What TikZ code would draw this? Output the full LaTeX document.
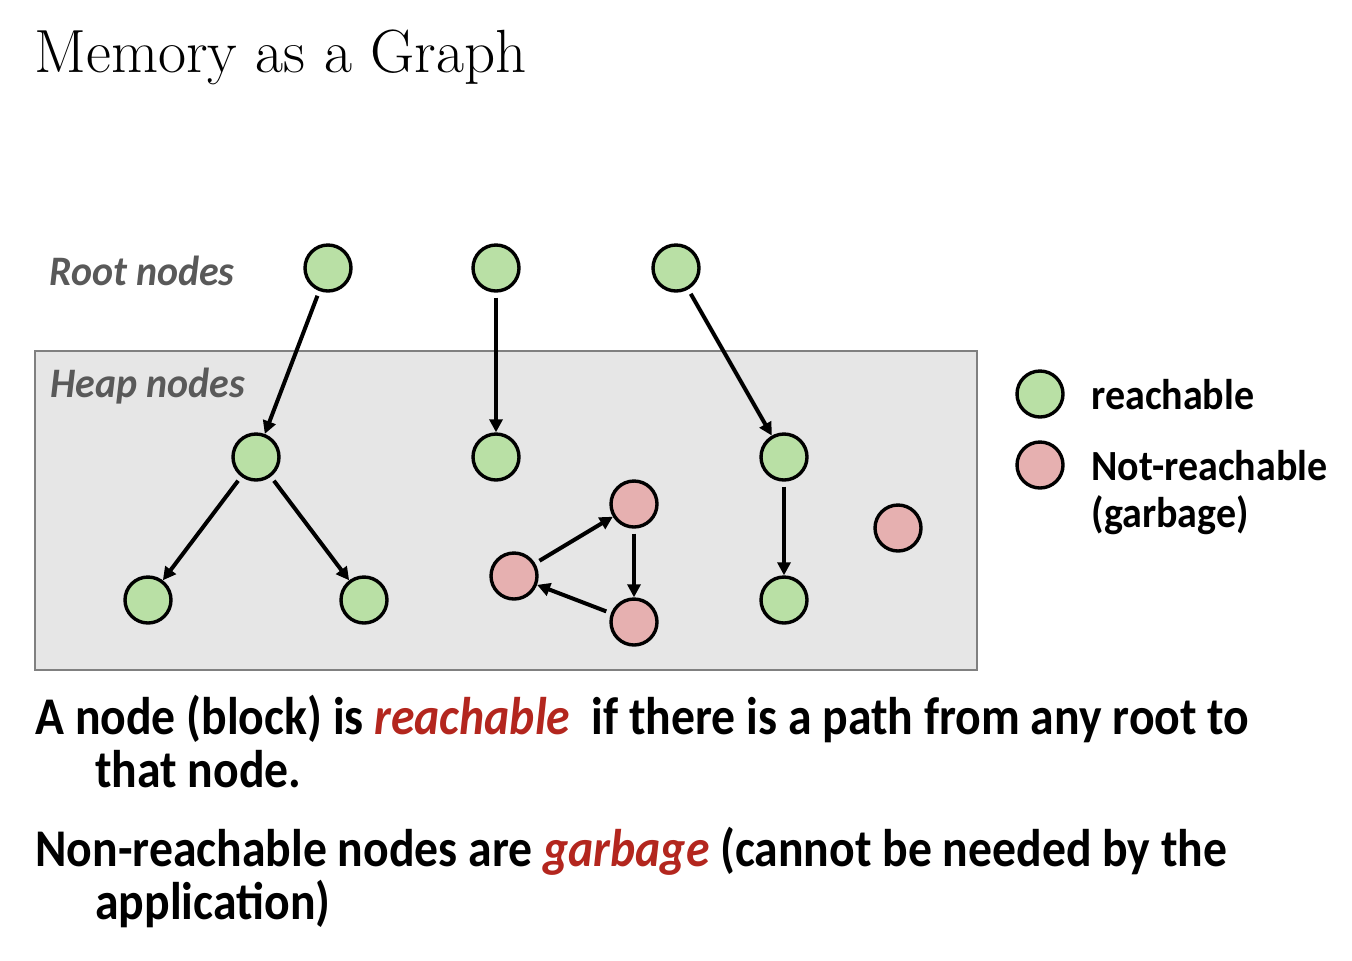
\documentclass[tikz,border=0pt]{standalone}
\usepackage{fontspec}
\newfontfamily\carllbl{Carlito}[FakeStretch=0.95]
\newfontfamily\carlleg{Carlito}[FakeStretch=0.93]
\newfontfamily\carlbody{Carlito}[FakeStretch=0.9]
\usetikzlibrary{arrows.meta}
\definecolor{gfill}{HTML}{B9E0A5}
\definecolor{rfill}{HTML}{E6B0B0}
\definecolor{boxfill}{HTML}{E6E6E6}
\definecolor{boxline}{HTML}{808080}
\definecolor{lblgray}{HTML}{595959}
\definecolor{emred}{HTML}{B3261E}
\tikzset{
  gnode/.style={circle,draw=black,line width=1.7pt,fill=gfill,minimum size=23pt,inner sep=0pt},
  rnode/.style={circle,draw=black,line width=1.7pt,fill=rfill,minimum size=23pt,inner sep=0pt},
  edge/.style={line width=2pt,-{Triangle[length=6.5pt,width=6.5pt]},shorten <=2.5pt,shorten >=0pt},
  lbl/.style={anchor=base west,inner sep=0pt,font=\carllbl\bfseries\itshape\fontsize{21}{25}\selectfont,text=lblgray},
  leg/.style={anchor=base west,inner sep=0pt,font=\carlleg\bfseries\fontsize{21.5}{26}\selectfont},
  body/.style={anchor=base west,inner sep=0pt,font=\carlbody\bfseries\fontsize{26.5}{32}\selectfont}
}
\begin{document}
\begin{tikzpicture}[x=0.5pt,y=-0.5pt]
\useasboundingbox (0,0) rectangle (1352,960);
\node[anchor=base west,inner sep=0pt,font=\fontsize{30.5}{36}\selectfont] (title) at (34,72) {Memory as a Graph};
\draw[fill=boxfill,draw=boxline,line width=0.6pt] (35,351) rectangle (977,670);
\node[lbl] (rootlbl) at (49,285) {Root nodes};
\node[lbl] (heaplbl) at (50,397) {Heap nodes};
% root nodes
\node[gnode] (r1) at (328,268) {};
\node[gnode] (r2) at (496,268) {};
\node[gnode] (r3) at (676,268) {};
% heap nodes
\node[gnode] (h1) at (256,457) {};
\node[gnode] (h2) at (496,457) {};
\node[gnode] (h3) at (784,457) {};
\node[gnode] (h4) at (148,600) {};
\node[gnode] (h5) at (364,600) {};
\node[gnode] (h6) at (784,600) {};
\node[rnode] (g1) at (634,504) {};
\node[rnode] (g2) at (514,576) {};
\node[rnode] (g3) at (634,622) {};
\node[rnode] (g4) at (898,528) {};
% edges
\draw[edge] (r1) -- (h1);
\draw[edge] (r2) -- (h2);
\draw[edge] (r3) -- (h3);
\draw[edge] (h1) -- (h4);
\draw[edge] (h1) -- (h5);
\draw[edge] (h3) -- (h6);
\draw[edge] (g2) -- (g1);
\draw[edge] (g1) -- (g3);
\draw[edge] (g3) -- (g2);
% legend
\node[gnode] (lg) at (1040,394) {};
\node[rnode] (lr) at (1040,465) {};
\node[leg] (lgt) at (1091,409) {reachable};
\node[leg] (lrt) at (1091,480) {Not-reachable};
\node[leg] (lrt2) at (1091,527) {(garbage)};
% body text
\node[body] (p1a) at (35,734) {A node (block) is \textcolor{emred}{\itshape reachable}\ \ if there is a path from any root to};
\node[body] (p1b) at (95,787) {that node.};
\node[body] (p2a) at (35,866) {Non-reachable nodes are \textcolor{emred}{\itshape garbage} (cannot be needed by the};
\node[body] (p2b) at (95,919) {application)};
\end{tikzpicture}
\end{document}
